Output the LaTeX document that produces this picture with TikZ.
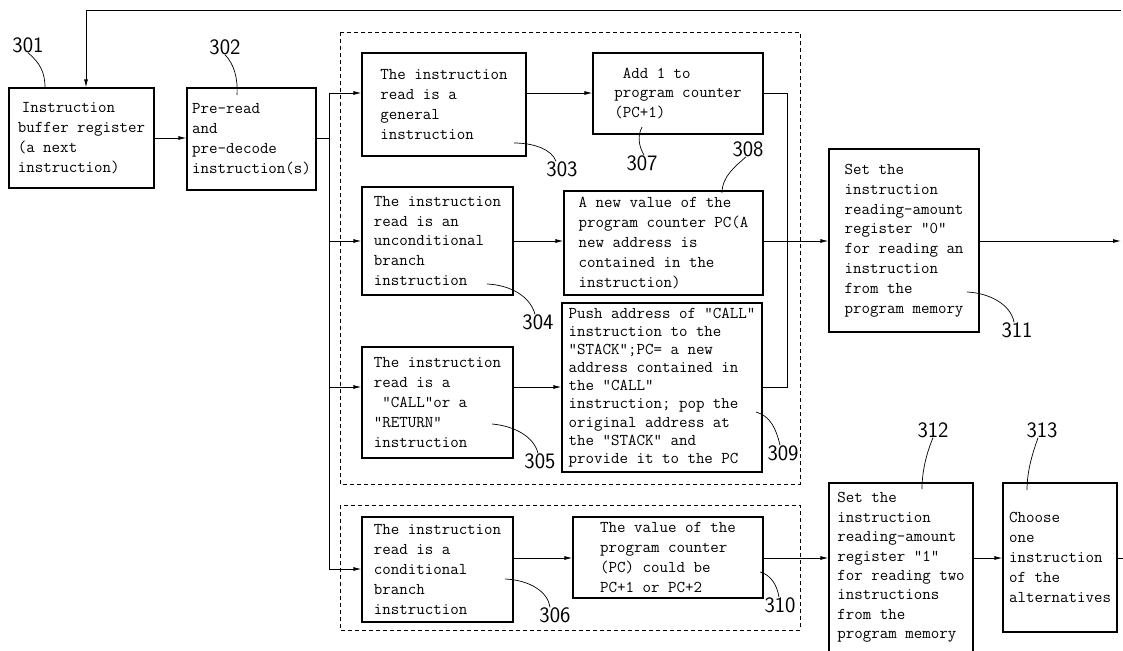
\documentclass[tikz,border=0pt]{standalone}
\usepackage{fontspec}
\usetikzlibrary{calc,positioning,arrows.meta}

\begin{document}
\begin{tikzpicture}[x=1pt,y=-1pt]
\tikzstyle{blk}=[draw, line width=1.1pt, align=left, inner sep=2pt, font=\ttfamily\fontsize{16.5}{19.8}\selectfont]
\tikzstyle{grp}=[draw, line width=0.7pt, dash pattern=on 4pt off 3pt]
\tikzstyle{num}=[inner sep=0pt, font=\sffamily\fontsize{22}{22}\selectfont]
\tikzstyle{lead}=[line width=0.7pt]
\tikzstyle{wire}=[line width=0.9pt]
\tikzstyle{arr}=[line width=0.9pt, -{Latex[length=8pt,width=4pt]}]

\useasboundingbox (0,0) rectangle (1123,650);

% dashed groups
\draw[grp] (340,32) rectangle (800,484);
\draw[grp] (340,505) rectangle (800,630);

% rows and rails
\coordinate (r0) at (0,138);
\coordinate (r1) at (0,93);
\coordinate (r2) at (0,241);
\coordinate (r3) at (0,387);
\coordinate (r4) at (0,569);
\coordinate (r5) at (0,558);
\coordinate (bus) at (329,0);
\coordinate (col) at (787,0);
\coordinate (fbx) at (86,10);
\coordinate (fbin) at (1121,10);
\coordinate (out) at (1121,0);
\coordinate (out2) at (1123,0);

% blocks
\node[blk, minimum width=145pt, minimum height=100pt] (b301) at (81.5,138)
  {\hspace*{4pt}Instruction\\buffer register\\(a next\\instruction)};
\node[blk, minimum width=129pt, minimum height=102pt] (b302) at (251.5,139)
  {Pre-read\\and\\pre-decode\\instruction(s)};
\node[blk, minimum width=164pt, minimum height=103pt] (b303) at (444,104.5)
  {The instruction\\read is a\\general\\instruction};
\node[blk, minimum width=170pt, minimum height=81pt] (b307) at (678,93.5)
  {\hphantom{x}Add 1 to\\program counter\\(PC+1)};
\node[blk, minimum width=151pt, minimum height=108pt] (b304) at (437.5,241)
  {The instruction\\read is an\\unconditional\\branch\\instruction};
\node[blk, minimum width=199pt, minimum height=104pt] (b308) at (663.5,243)
  {A new value of the\\program counter PC(A\\new address is\\contained in the\\instruction)};
\node[blk, minimum width=151pt, minimum height=111pt] (b305) at (437.5,402.5)
  {The instruction\\read is a\\\hphantom{x}"CALL"or a\\"RETURN"\\instruction};
\node[blk, minimum width=200pt, minimum height=169pt, font=\ttfamily\fontsize{16.5}{18.1}\selectfont] (b309) at (662,387.5)
  {Push address of "CALL"\\instruction to the\\"STACK";PC= a new\\address contained in\\the "CALL"\\instruction; pop the\\original address at\\the "STACK" and\\provide it to the PC};
\node[blk, minimum width=151pt, minimum height=105pt] (b306) at (437.5,569.5)
  {The instruction\\read is a\\conditional\\branch\\instruction};
\node[blk, minimum width=190pt, minimum height=81pt] (b310) at (668,557.5)
  {The value of the\\program counter\\(PC) could be\\PC+1 or PC+2};
\node[blk, minimum width=150pt, minimum height=183pt] (b311) at (904,240.5)
  {Set the\\instruction\\reading-amount\\register "0"\\for reading an\\instruction\\from the\\program memory};
\node[blk, minimum width=144pt, minimum height=169pt, font=\ttfamily\fontsize{16.5}{19.4}\selectfont] (b312) at (901,567.5)
  {Set the\\instruction\\reading-amount\\register "1"\\for reading two\\instructions\\from the\\program memory};
\node[blk, minimum width=114pt, minimum height=149pt] (b313) at (1060,557.5)
  {Choose\\one\\instruction\\of the\\alternatives};

% reference numbers
\node[num] (n301) at (28,45) {301};
\node[num] (n302) at (225,47) {302};
\node[num] (n303) at (562,169) {303};
\node[num] (n307) at (642,163) {307};
\node[num] (n308) at (748,149) {308};
\node[num] (n304) at (538,322) {304};
\node[num] (n305) at (540,461) {305};
\node[num] (n309) at (783,453) {309};
\node[num] (n306) at (555,615) {306};
\node[num] (n310) at (780,605) {310};
\node[num] (n311) at (1017,330) {311};
\node[num] (n312) at (933,430) {312};
\node[num] (n313) at (1042,430) {313};

% leaders
\draw[lead] (n301.south) .. controls (40,63) and (45,72) .. (45,88);
\draw[lead] (n302.south) .. controls (234,64) and (238,78) .. (237,95);
\draw[lead] (514,143) .. controls (535,143) and (552,150) .. ([xshift=-6pt]n303.north);
\draw[lead] (642,127) .. controls (637,137) and (639,146) .. ([xshift=2pt]n307.north);
\draw[lead] (722,193) .. controls (722,176) and (736,166) .. ([xshift=-2pt]n308.south);
\draw[lead] (487,284) .. controls (510,285) and (530,296) .. ([xshift=-3pt]n304.north);
\draw[lead] (492,424) .. controls (515,426) and (534,437) .. ([xshift=-2pt]n305.north);
\draw[lead] (756,412) .. controls (770,416) and (776,428) .. ([xshift=-3pt]n309.north);
\draw[lead] (505,579) .. controls (530,580) and (548,592) .. ([xshift=-5pt]n306.north);
\draw[lead] (760,572) .. controls (771,575) and (777,585) .. ([xshift=-1pt]n310.north);
\draw[lead] (967,292) .. controls (990,293) and (1011,305) .. ([xshift=-3pt]n311.north);
\draw[lead] (922,489) .. controls (922,470) and (927,452) .. (n312.south);
\draw[lead] (1027,490) .. controls (1027,470) and (1033,452) .. ([xshift=-4pt]n313.south);

% feedback and input side
\draw[arr] (fbin) -- (fbx) -- (fbx |- b301.north);
\draw[arr] (b301.east |- r0) -- (b302.west |- r0);
\draw[wire] (b302.east |- r0) -- (bus |- r0);
\draw[wire] (bus |- r1) -- (bus |- r4);
\draw[arr] (bus |- r1) -- (b303.west |- r1);
\draw[arr] (bus |- r2) -- (b304.west |- r2);
\draw[arr] (bus |- r3) -- (b305.west |- r3);
\draw[arr] (bus |- r4) -- (b306.west |- r4);

% second column
\draw[arr] (b303.east |- r1) -- (b307.west |- r1);
\draw[arr] (b304.east |- r2) -- (b308.west |- r2);
\draw[arr] (b305.east |- r3) -- (b309.west |- r3);
\draw[arr] (b306.east |- r5) -- (b310.west |- r5);

% collector and outputs
\draw[wire] (b307.east |- r1) -- (col |- r1) -- (col |- r3) -- (b309.east |- r3);
\draw[arr] (b308.east |- r2) -- (b311.west |- r2);
\draw[arr] (b311.east |- r2) -- (out |- r2);
\draw[arr] (b310.east |- r5) -- (b312.west |- r5);
\draw[arr] (b312.east |- r5) -- (b313.west |- r5);
\draw[wire] (b313.east |- r5) -- (out2 |- r5);
\end{tikzpicture}
\end{document}
